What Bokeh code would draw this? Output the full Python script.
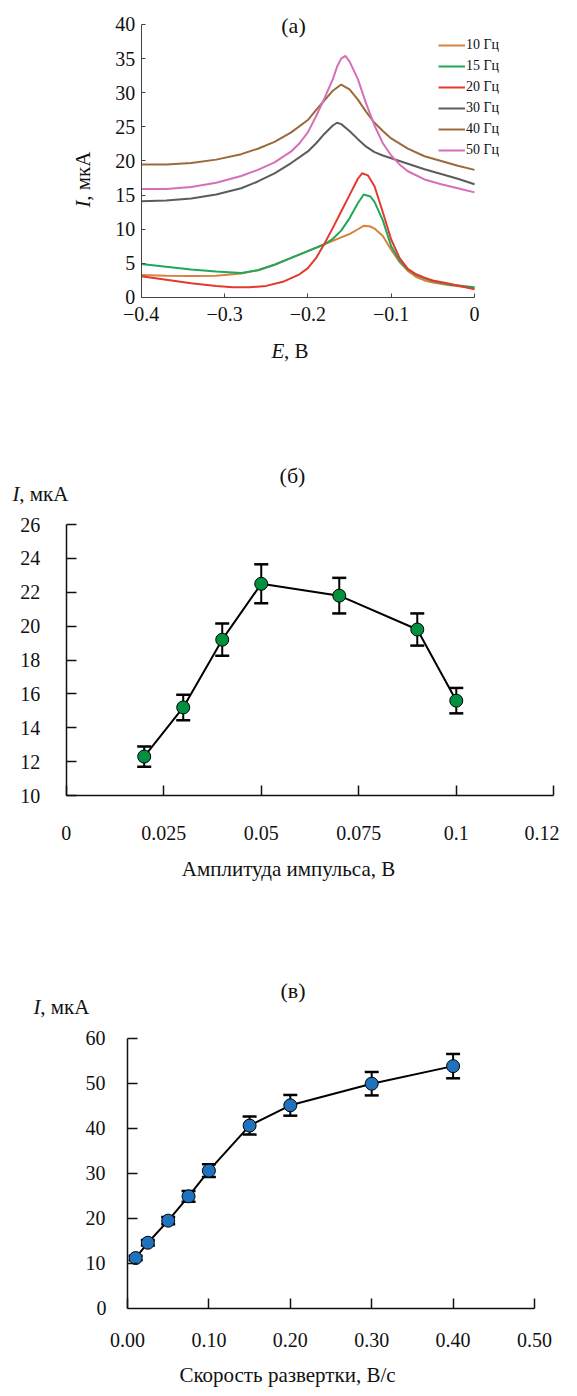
from math import pi
from bokeh.plotting import figure
from bokeh.layouts import column
from bokeh.models import (Label, Legend, LegendItem, Whisker, TeeHead,
                          ColumnDataSource, FixedTicker, LinearAxis)
from bokeh.embed import file_html
from bokeh.resources import INLINE

FONT = "Liberation Serif"
TXT = "#111111"

# ---------------- Panel (а): DPV curves ----------------
a_names = ["10 Гц", "15 Гц", "20 Гц", "30 Гц", "40 Гц", "50 Гц"]
a_colors = ["#d8823e", "#1fa85a", "#e23a2e", "#5c5c5c", "#9a6a3c", "#d66fb8"]

a_x_10 = [-0.40, -0.37, -0.34, -0.31, -0.28, -0.26, -0.24, -0.22, -0.20, -0.18, -0.16, -0.15,
          -0.14, -0.133, -0.125, -0.12, -0.11, -0.10, -0.09, -0.08, -0.07, -0.06, -0.05, -0.03, 0.0]
a_y_10 = [3.3, 3.2, 3.15, 3.2, 3.5, 4.0, 4.8, 5.8, 6.8, 7.8, 8.8, 9.3,
          10.0, 10.5, 10.4, 10.1, 9.0, 7.0, 5.2, 3.9, 3.0, 2.5, 2.2, 1.8, 1.4]

a_x_15 = [-0.40, -0.37, -0.34, -0.31, -0.28, -0.26, -0.24, -0.22, -0.20, -0.18, -0.17, -0.16,
          -0.15, -0.14, -0.133, -0.125, -0.12, -0.11, -0.10, -0.09, -0.08, -0.07, -0.06, -0.05,
          -0.03, 0.0]
a_y_15 = [4.9, 4.5, 4.1, 3.8, 3.6, 4.0, 4.8, 5.8, 6.8, 7.8, 8.6, 9.8,
          11.6, 13.8, 15.1, 14.8, 14.0, 11.3, 7.5, 5.4, 4.1, 3.3, 2.8, 2.4,
          1.9, 1.5]

a_x_20 = [-0.40, -0.37, -0.34, -0.31, -0.29, -0.27, -0.25, -0.23, -0.21, -0.20, -0.19, -0.18,
          -0.17, -0.16, -0.15, -0.14, -0.135, -0.128, -0.12, -0.11, -0.10, -0.09, -0.08, -0.07,
          -0.06, -0.05, -0.03, 0.0]
a_y_20 = [3.1, 2.6, 2.1, 1.7, 1.5, 1.5, 1.7, 2.3, 3.4, 4.3, 5.8, 7.9,
          10.2, 12.6, 15.0, 17.4, 18.2, 17.9, 16.3, 12.5, 8.5, 5.8, 4.2, 3.4,
          2.9, 2.5, 2.0, 1.2]

a_x_30 = [-0.40, -0.37, -0.34, -0.31, -0.28, -0.26, -0.24, -0.22, -0.20, -0.19, -0.18, -0.17,
          -0.165, -0.16, -0.15, -0.14, -0.13, -0.12, -0.11, -0.10, -0.08, -0.06, -0.04, -0.02, 0.0]
a_y_30 = [14.1, 14.2, 14.5, 15.1, 16.0, 17.0, 18.2, 19.7, 21.4, 22.6, 24.0, 25.2,
          25.6, 25.4, 24.4, 23.2, 22.1, 21.3, 20.8, 20.4, 19.6, 18.8, 18.1, 17.4, 16.6]

a_x_40 = [-0.40, -0.37, -0.34, -0.31, -0.28, -0.26, -0.24, -0.22, -0.20, -0.19, -0.18, -0.17,
          -0.16, -0.15, -0.14, -0.13, -0.12, -0.11, -0.10, -0.08, -0.06, -0.04, -0.02, 0.0]
a_y_40 = [19.5, 19.5, 19.7, 20.2, 21.0, 21.8, 22.8, 24.2, 26.0, 27.5, 28.9, 30.3,
          31.2, 30.5, 29.0, 27.2, 25.6, 24.4, 23.3, 21.8, 20.7, 20.0, 19.3, 18.7]

a_x_50 = [-0.40, -0.37, -0.34, -0.31, -0.28, -0.26, -0.24, -0.22, -0.21, -0.20, -0.19, -0.18,
          -0.17, -0.165, -0.16, -0.155, -0.15, -0.14, -0.13, -0.12, -0.11, -0.10, -0.09, -0.08,
          -0.06, -0.04, -0.02, 0.0]
a_y_50 = [15.9, 15.9, 16.2, 16.8, 17.8, 18.7, 19.8, 21.4, 22.6, 24.2, 26.6, 29.2,
          32.0, 33.8, 35.0, 35.4, 34.6, 32.0, 28.4, 25.2, 22.6, 20.8, 19.5, 18.5,
          17.3, 16.6, 16.0, 15.4]

a_xticks = [-0.4, -0.3, -0.2, -0.1, 0.0]
a_xtick_labels = ["−0.4", "−0.3", "−0.2", "−0.1", "0"]
a_yticks_1d = [0, 5]
a_yticks_2d = [10, 15, 20, 25, 30, 35, 40]

# ---------------- Panel (б): pulse amplitude ----------------
b_x = [0.02, 0.03, 0.04, 0.05, 0.07, 0.09, 0.10]
b_y = [12.3, 15.2, 19.2, 22.5, 21.8, 19.8, 15.6]
b_err = [0.6, 0.75, 0.95, 1.15, 1.05, 0.95, 0.75]
b_xticks = [0.0, 0.025, 0.05, 0.075, 0.1, 0.125]
b_xtick_labels = ["0", "0.025", "0.05", "0.075", "0.1", "0.12"]
b_yticks = [10, 12, 14, 16, 18, 20, 22, 24, 26]

# ---------------- Panel (в): scan rate ----------------
c_x = [0.01, 0.025, 0.05, 0.075, 0.1, 0.15, 0.2, 0.3, 0.4]
c_y = [11.2, 14.6, 19.5, 24.9, 30.6, 40.6, 45.1, 49.9, 53.8]
c_err = [0.5, 0.6, 0.8, 1.2, 1.4, 2.0, 2.3, 2.6, 2.7]
c_xticks = [0.0, 0.1, 0.2, 0.3, 0.4, 0.5]
c_xtick_labels = ["0.00", "0.10", "0.20", "0.30", "0.40", "0.50"]
c_yticks_1d = [0]
c_yticks_2d = [10, 20, 30, 40, 50, 60]

W = 577


def make_fig(h, xr, yr):
    p = figure(width=W, height=h, x_range=xr, y_range=yr, output_backend="svg",
               toolbar_location=None, x_axis_location="above", y_axis_location="right",
               min_border=0, min_border_left=0, min_border_right=0,
               min_border_top=0, min_border_bottom=0)
    p.grid.visible = False
    p.outline_line_color = None
    return p


def conf_axis(ax, ticks, labels, loc, bounds, tick_out, standoff, lw, color, fs="20px",
              line=True, tick_marks=True):
    ax.ticker = FixedTicker(ticks=ticks)
    ax.major_label_overrides = {t: s for t, s in zip(ticks, labels)}
    ax.fixed_location = loc
    if bounds is not None:
        ax.bounds = bounds
    ax.major_tick_in = 0
    ax.major_tick_out = tick_out
    ax.minor_tick_line_color = None
    ax.major_label_standoff = standoff
    ax.axis_line_color = color if line else None
    ax.axis_line_width = lw
    ax.major_tick_line_color = color if tick_marks else None
    ax.major_tick_line_width = lw
    ax.major_label_text_font = FONT
    ax.major_label_text_font_size = fs
    ax.major_label_text_color = TXT


def text(p, x, y, s, size="21px", style="normal", align="left", angle=0.0):
    p.add_layout(Label(x=x, y=y, text=s, text_font=FONT, text_font_size=size,
                       text_font_style=style, text_align=align, text_baseline="middle",
                       angle=angle, text_color=TXT))


# ----- figure (а) -----
pa = make_fig(410, (-0.56886, 0.12361), (-16.557, 43.516))
conf_axis(pa.xaxis[0], a_xticks, a_xtick_labels, 0, (-0.4, 0.0), 4, -28, 1, "#444444")
conf_axis(pa.yaxis[0], a_yticks_2d, [str(t) for t in a_yticks_2d], -0.4, (0, 40), 4, -30,
          1, "#444444")
ya1 = LinearAxis()
conf_axis(ya1, a_yticks_1d, [str(t) for t in a_yticks_1d], -0.4, None, 4, -20, 1, "#444444",
          line=False)
pa.add_layout(ya1, "right")

a_xs = [a_x_10, a_x_15, a_x_20, a_x_30, a_x_40, a_x_50]
a_ys = [a_y_10, a_y_15, a_y_20, a_y_30, a_y_40, a_y_50]
items = []
for name, col, xs, ys in zip(a_names, a_colors, a_xs, a_ys):
    r = pa.line(xs, ys, line_color=col, line_width=2)
    items.append(LegendItem(label=name, renderers=[r]))
pa.add_layout(Legend(items=items, location=(438, 250), glyph_width=27, glyph_height=20,
                     label_height=20, label_standoff=1, spacing=1, padding=0, margin=0,
                     border_line_color=None, background_fill_alpha=0,
                     label_text_font=FONT, label_text_font_size="14px",
                     label_text_color=TXT))

text(pa, -0.21722, 39.853, "(а)", size="22px", align="center")
text(pa, -0.46925, 13.187, "I", style="italic", angle=pi / 2)
text(pa, -0.46925, 14.168, ", мкА", angle=pi / 2)
text(pa, -0.24362, -7.766, "E", style="italic")
text(pa, -0.22874, -7.766, ", В")

# ----- figure (б) -----
pb = make_fig(490, (-0.016843, 0.131076), (3.8007, 32.731))
conf_axis(pb.xaxis[0], b_xticks, b_xtick_labels[:-1] + [""], 10, (0, 0.125), 10, -54,
          1.5, "#111111")
xb2 = LinearAxis()
conf_axis(xb2, [0.12195], [b_xtick_labels[-1]], 10, None, 0, -44, 1.5, "#111111",
          line=False, tick_marks=False)
pb.add_layout(xb2, "above")
conf_axis(pb.yaxis[0], b_yticks, [str(t) for t in b_yticks], 0, (10, 26), 10, -56,
          1.5, "#111111")

src_b = ColumnDataSource(dict(x=b_x, y=b_y,
                              upper=[v + e for v, e in zip(b_y, b_err)],
                              lower=[v - e for v, e in zip(b_y, b_err)]))
pb.line("x", "y", source=src_b, line_color="black", line_width=2)
pb.add_layout(Whisker(base="x", upper="upper", lower="lower", source=src_b,
                      dimension="height", line_color="black", line_width=2, level="underlay",
                      upper_head=TeeHead(size=14, line_width=2.5, line_color="black"),
                      lower_head=TeeHead(size=14, line_width=2.5, line_color="black")))
pb.scatter("x", "y", source=src_b, size=13, fill_color="#009140", line_color="black",
           line_width=1)
text(pb, 0.058014, 28.893, "(б)", size="22px", align="center")
text(pb, -0.013766, 27.830, "I", style="italic")
text(pb, -0.012049, 27.830, ", мкА")
text(pb, 0.056989, 5.690, "Амплитуда импульса, В", align="center")

# ----- figure (в) -----
pc = make_fig(495, (-0.15602, 0.55283), (-19.312, 90.566))
conf_axis(pc.xaxis[0], c_xticks, c_xtick_labels, 0, (0, 0.5), 10, -49, 1.5, "#111111")
conf_axis(pc.yaxis[0], c_yticks_2d, [str(t) for t in c_yticks_2d], 0, (0, 60), 10, -52,
          1.5, "#111111")
yc1 = LinearAxis()
conf_axis(yc1, c_yticks_1d, [str(t) for t in c_yticks_1d], 0, None, 10, -41, 1.5, "#111111",
          line=False, tick_marks=False)
pc.add_layout(yc1, "right")

src_c = ColumnDataSource(dict(x=c_x, y=c_y,
                              upper=[v + e for v, e in zip(c_y, c_err)],
                              lower=[v - e for v, e in zip(c_y, c_err)]))
pc.line("x", "y", source=src_c, line_color="black", line_width=2)
pc.add_layout(Whisker(base="x", upper="upper", lower="lower", source=src_c,
                      dimension="height", line_color="black", line_width=2, level="underlay",
                      upper_head=TeeHead(size=14, line_width=2.5, line_color="black"),
                      lower_head=TeeHead(size=14, line_width=2.5, line_color="black")))
pc.scatter("x", "y", source=src_c, size=13, fill_color="#1f72be", line_color="black",
           line_width=1)
text(pc, 0.20332, 70.588, "(в)", size="22px", align="center")
text(pc, -0.11548, 67.036, "I", style="italic")
text(pc, -0.10725, 67.036, ", мкА")
text(pc, 0.19656, -14.872, "Скорость развертки, В/с", align="center")

layout = column(pa, pb, pc, spacing=0)
open("out.html", "w").write(file_html(layout, INLINE))
